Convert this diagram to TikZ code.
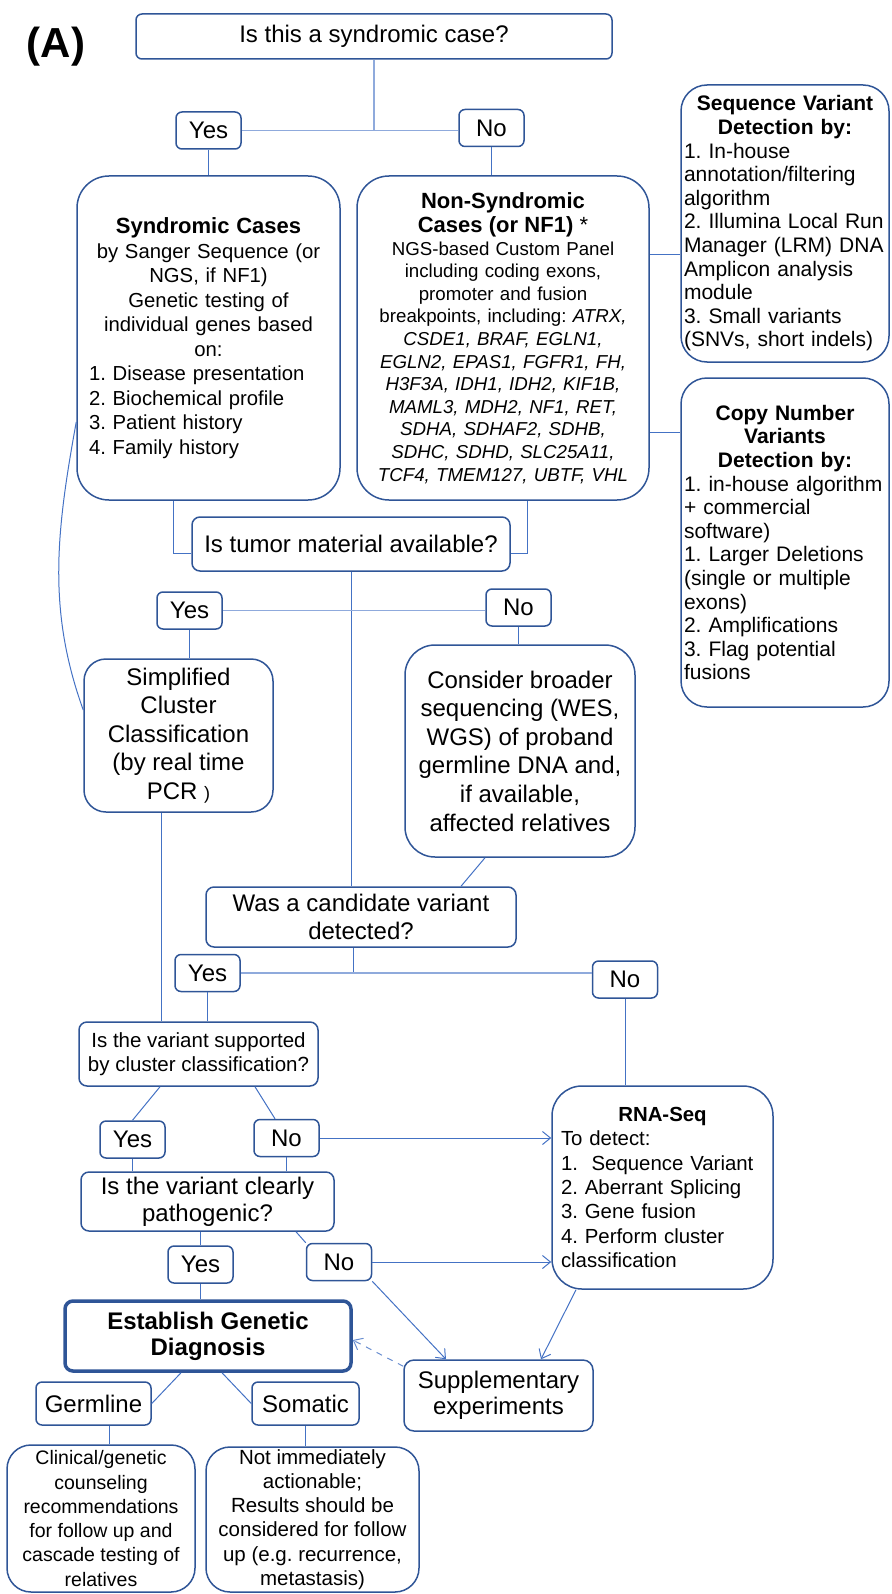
\documentclass[tikz,border=0pt]{standalone}
\usepackage{fontspec}
\setmainfont{Liberation Sans}
\usetikzlibrary{positioning, arrows.meta, calc}
\definecolor{boxblue}{HTML}{2F5597}
\definecolor{lineblue}{HTML}{4472C4}
\frenchspacing

\begin{document}
\begin{tikzpicture}[x=0.5pt, y=-0.5pt,
    qbox/.style={draw=boxblue, line width=0.75pt, rounded corners=4pt, align=center,
                 inner sep=1pt, font=\fontsize{12}{14}\selectfont},
    ans/.style={qbox, rounded corners=3pt, minimum width=32.5pt, minimum height=18.5pt},
    panel/.style={qbox, rounded corners=15pt},
    link/.style={draw=lineblue, line width=0.5pt},
    fork/.style={draw=lineblue!60, line width=0.8pt},
    arr/.style={link, -{Straight Barb[length=4pt, width=6.5pt]}},
  ]
    \useasboundingbox (0,0) rectangle (891,1594);
    \node[font=\fontsize{21}{21}\selectfont\bfseries] (lbl) at (56,47) {(A)};

    % first question
    \node[qbox, rounded corners=3pt, minimum width=238pt, minimum height=22.5pt] (syn) at (374,36.5) {Is this a syndromic case?};
    \node[ans] (yes1) at (208.5,130.5) {Yes};
    \node[ans] (no1) at (491.5,128) {No};
    \node[panel, rounded corners=16pt, minimum width=131.5pt, minimum height=162pt, text width=119.5pt,
          font=\fontsize{10.15}{12.25}\selectfont] (synd) at (208.5,338) {%
      {\fontsize{11}{12}\selectfont\bfseries Syndromic Cases\par}
      by Sanger Sequence (or\\NGS, if NF1)\\Genetic testing of\\individual genes based\\on:\par
      \raggedright 1. Disease presentation\\2. Biochemical profile\\3. Patient history\\4. Family history\par};
    \node[panel, rounded corners=16pt, minimum width=146pt, minimum height=162pt, text width=136pt,
          font=\fontsize{9.35}{11.3}\selectfont] (nonsynd) at (503,338) {%
      {\fontsize{11}{12}\selectfont\bfseries Non-Syndromic\\Cases (or NF1) \mdseries*\par}
      NGS-based Custom Panel\\including coding exons,\\promoter and fusion\\breakpoints, including: \textit{ATRX,}\\
      \textit{CSDE1, BRAF, EGLN1,}\\\textit{EGLN2, EPAS1, FGFR1, FH,}\\\textit{H3F3A, IDH1, IDH2, KIF1B,}\\
      \textit{MAML3, MDH2, NF1, RET,}\\\textit{SDHA, SDHAF2, SDHB,}\\\textit{SDHC, SDHD, SLC25A11,}\\
      \textit{TCF4, TMEM127, UBTF, VHL}\par};
    \node[panel, rounded corners=13pt, minimum width=104pt, minimum height=138.5pt, text width=101pt,
          inner xsep=0.5pt, font=\fontsize{10.5}{11.8}\selectfont] (seq) at (785,223.5) {%
      {\bfseries Sequence Variant\\Detection by:\par}
      \raggedright 1. In-house\\annotation/filtering\\algorithm\\2. Illumina Local Run\\Manager (LRM) DNA\\
      Amplicon analysis\\module\\3. Small variants\\(SNVs, short indels)\par};
    \node[panel, rounded corners=13pt, minimum width=104pt, minimum height=164.5pt, text width=101pt,
          inner xsep=0.5pt, font=\fontsize{10.5}{11.8}\selectfont] (cnv) at (785,542.5) {%
      {\bfseries Copy Number\\Variants\\Detection by:\par}
      \raggedright 1. in-house algorithm\\+ commercial\\software)\\1. Larger Deletions\\(single or multiple\\
      exons)\\2. Amplifications\\3. Flag potential\\fusions\par};

    % tumor material
    \node[qbox, minimum width=159pt, minimum height=27pt] (tumor) at (351,544) {Is tumor material available?};
    \node[ans] (yes2) at (189.5,610.5) {Yes};
    \node[ans] (no2) at (518.5,607.5) {No};
    \node[qbox, rounded corners=11pt, minimum width=94.5pt, minimum height=76.5pt,
          font=\fontsize{12}{14.3}\selectfont] (simp) at (178.5,735.5)
      {Simplified\\Cluster\\Classification\\(by real time\\PCR {\fontsize{9}{10}\selectfont)}};
    \node[qbox, rounded corners=15pt, minimum width=115pt, minimum height=106pt,
          font=\fontsize{12}{14.3}\selectfont] (consider) at (520,751)
      {Consider broader\\sequencing (WES,\\WGS) of proband\\germline DNA and,\\if available,\\affected relatives};

    % candidate variant
    \node[qbox, minimum width=155pt, minimum height=30pt, font=\fontsize{12}{13.7}\selectfont] (cand) at (361,917)
      {Was a candidate variant\\detected?};
    \node[ans] (yes3) at (207.5,973) {Yes};
    \node[ans] (no3) at (625,979.5) {No};
    \node[qbox, minimum width=119.5pt, minimum height=32pt, font=\fontsize{10.25}{12}\selectfont] (supp) at (198.5,1054)
      {Is the variant supported\\by cluster classification?};
    \node[panel, minimum width=110.5pt, minimum height=101.5pt, text width=101.5pt, align=left,
          font=\fontsize{10.2}{12.15}\selectfont] (rna) at (662.5,1187.5) {%
      {\centering\bfseries RNA-Seq\par}
      To detect:\\1.~ Sequence Variant\\2. Aberrant Splicing\\3. Gene fusion\\4. Perform cluster\\classification\par};
    \node[ans] (yes4) at (132.5,1139.5) {Yes};
    \node[ans] (no4) at (286.5,1138) {No};
    \node[qbox, minimum width=126.5pt, minimum height=29.5pt, font=\fontsize{12}{13.35}\selectfont] (path) at (207.5,1201.5)
      {Is the variant clearly\\pathogenic?};
    \node[ans] (yes5) at (200.5,1264.5) {Yes};
    \node[ans] (no5) at (339,1262) {No};

    % diagnosis
    \node[qbox, line width=1.75pt, minimum width=143pt, minimum height=35pt,
          font=\fontsize{12}{12.85}\selectfont\bfseries] (estab) at (208,1336) {Establish Genetic\\Diagnosis};
    \node[qbox, rounded corners=5pt, minimum width=94.5pt, minimum height=35.5pt,
          font=\fontsize{12}{13}\selectfont] (suppl) at (498.5,1395.5) {Supplementary\\experiments};
    \node[qbox, rounded corners=3pt, minimum width=57.5pt, minimum height=21.5pt] (germ) at (93.5,1403.5) {Germline};
    \node[qbox, rounded corners=3pt, minimum width=53.5pt, minimum height=21.5pt] (som) at (305.5,1403.5) {Somatic};
    \node[qbox, rounded corners=12pt, minimum width=94pt, minimum height=73.5pt,
          font=\fontsize{9.75}{12.15}\selectfont] (clin) at (101,1518.5)
      {Clinical/genetic\\counseling\\recommendations\\for follow up and\\cascade testing of\\relatives};
    \node[qbox, rounded corners=12pt, minimum width=106.5pt, minimum height=72.5pt,
          font=\fontsize{10.25}{12.15}\selectfont] (notimm) at (312.5,1519.5)
      {Not immediately\\actionable;\\Results should be\\considered for follow\\up (e.g. recurrence,\\metastasis)};

    % connectors
    \draw[fork] (syn.south) -- (syn.south |- yes1.east);
    \draw[fork] (yes1.east) -- (yes1.east -| no1.west);
    \draw[link] (yes1.south) -- (yes1.south |- synd.north);
    \draw[link] (no1.south) -- (no1.south |- nonsynd.north);
    \draw[link] ([yshift=42pt]nonsynd.east) -- ([yshift=42pt]nonsynd.east -| seq.west);
    \draw[link] ([yshift=-47pt]nonsynd.east) -- ([yshift=-47pt]nonsynd.east -| cnv.west);
    \draw[link] ([xshift=-17.75pt]synd.south) |- ([yshift=-4.5pt]tumor.west);
    \draw[link] ([xshift=12pt]nonsynd.south) |- ([yshift=-4.5pt]tumor.east);
    \draw[link] ([yshift=-42pt]synd.west) .. controls +(-20,110) and +(-36,-100) .. ([yshift=12.75pt]simp.west);
    \draw[link] (tumor.south) -- (tumor.south |- cand.north);
    \draw[fork] (yes2.east) -- (yes2.east -| no2.west);
    \draw[link] (yes2.south) -- (yes2.south |- simp.north);
    \draw[link] (no2.south) -- (no2.south |- consider.north);
    \draw[link] ([xshift=-17.5pt]consider.south) -- ([xshift=50pt]cand.north);
    \draw[link] ([xshift=-4pt]cand.south) -- ([xshift=-4pt]cand.south |- yes3.east);
    \draw[fork] (yes3.east) -- (yes3.east -| no3.west);
    \draw[link] ([xshift=-8.75pt]simp.south) -- ([xshift=-8.75pt]simp.south |- supp.north);
    \draw[link] (yes3.south) -- (yes3.south |- supp.north);
    \draw[link] (no3.south) -- (no3.south |- rna.north);
    \draw[link] ([xshift=-19.25pt]supp.south) -- (yes4.north);
    \draw[link] ([xshift=28.25pt]supp.south) -- ([xshift=-5.75pt]no4.north);
    \draw[arr] (no4.east) -- (no4.east -| rna.west);
    \draw[link] (yes4.south) -- (yes4.south |- path.north);
    \draw[link] (no4.south) -- (no4.south |- path.north);
    \draw[link] (yes5.north |- path.south) -- (yes5.north);
    \draw[link] ([xshift=44.25pt]path.south) -- (no5.north west);
    \draw[arr] (no5.east) -- (no5.east -| rna.west);
    \draw[arr] (no5.south east) -- ([xshift=-26.25pt]suppl.north);
    \draw[arr] ([xshift=-43.25pt]rna.south) -- ([xshift=21.25pt]suppl.north);
    \draw[link] (yes5.south) -- (yes5.south |- estab.north);
    \draw[arr, dashed, draw=lineblue!80] ([yshift=-3.5pt]suppl.north west) -- ([yshift=-2pt]estab.east);
    \draw[link] ([xshift=-13.5pt]estab.south) -- (germ.east);
    \draw[link] ([xshift=7pt]estab.south) -- (som.west);
    \draw[link] ([xshift=7.75pt]germ.south) -- ([xshift=7.75pt]germ.south |- clin.north);
    \draw[link] (som.south) -- (som.south |- notimm.north);
  \end{tikzpicture}
\end{document}
